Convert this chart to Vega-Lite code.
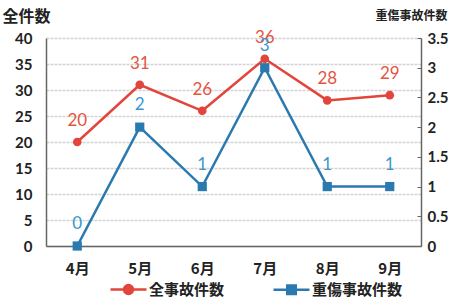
{
  "$schema": "https://vega.github.io/schema/vega-lite/v6.json",
  "width": 375,
  "height": 208,
  "autosize": {"type": "none"},
  "padding": {"left": 46, "top": 38, "right": 35, "bottom": 52},
  "background": "white",
  "config": {
    "view": {"stroke": null},
    "axis": {"labelColor": "#222", "titleColor": "#222"},
    "legend": {
      "orient": "none",
      "legendX": 75,
      "legendY": 244,
      "direction": "horizontal",
      "title": null,
      "padding": 0,
      "labelFont": "Noto Sans CJK JP",
      "labelFontSize": 15,
      "labelFontWeight": "bold",
      "labelColor": "#222",
      "symbolSize": 100,
      "symbolStrokeWidth": 2.5,
      "labelOffset": 13,
      "columnPadding": 43
    }
  },
  "data": {
    "values": [
      {"month": "4月", "all": 20, "serious": 0},
      {"month": "5月", "all": 31, "serious": 2},
      {"month": "6月", "all": 26, "serious": 1},
      {"month": "7月", "all": 36, "serious": 3},
      {"month": "8月", "all": 28, "serious": 1},
      {"month": "9月", "all": 29, "serious": 1}
    ]
  },
  "encoding": {
    "x": {
      "field": "month",
      "type": "ordinal",
      "sort": null,
      "scale": {"padding": 0.5},
      "axis": {
        "title": null,
        "labelAngle": 0,
        "labelFont": "Noto Sans CJK JP",
        "labelFontSize": 15,
        "labelFontWeight": "bold",
        "labelPadding": 15,
        "ticks": false,
        "domainColor": "#666",
        "domainWidth": 1.5,
        "grid": false
      }
    }
  },
  "layer": [
    {
      "encoding": {
        "y": {
          "field": "all",
          "type": "quantitative",
          "scale": {"domain": [0, 40], "nice": false},
          "axis": {
            "title": "全件数",
            "titleAngle": 0,
            "titleAlign": "left",
            "titleBaseline": "bottom",
            "titleX": -44,
            "titleY": -14,
            "titleFont": "Noto Sans CJK JP",
            "titleFontSize": 16,
            "titleFontWeight": "bold",
            "values": [0, 5, 10, 15, 20, 25, 30, 35, 40],
            "labelFont": "Lato",
            "labelFontSize": 15,
            "labelFontWeight": "bold",
            "labelPadding": 14,
            "ticks": false,
            "domainColor": "#666",
            "domainWidth": 1.5,
            "grid": true,
            "gridColor": "#d4d4d4",
            "gridWidth": 1.5,
            "gridDash": [3, 1]
          }
        }
      },
      "layer": [
        {
          "mark": {"type": "line", "strokeWidth": 2.5},
          "encoding": {"color": {"datum": "全事故件数", "scale": {"domain": ["全事故件数", "重傷事故件数"], "range": ["#e2453c", "#2a7ab0"]}}}
        },
        {
          "mark": {"type": "point", "filled": true, "opacity": 1, "shape": "circle", "size": 75},
          "encoding": {"color": {"datum": "全事故件数"}}
        },
        {
          "mark": {"type": "text", "dy": -21, "font": "Lato", "fontSize": 17, "color": "#e4553f"},
          "encoding": {"text": {"field": "all", "type": "quantitative"}}
        },
        {
          "transform": [{"filter": "false"}],
          "mark": {"type": "point", "filled": true, "opacity": 1},
          "encoding": {
            "color": {"datum": "全事故件数"},
            "shape": {
              "datum": "全事故件数",
              "scale": {
                "domain": ["全事故件数", "重傷事故件数"],
                "range": [
                  "M-3.6,0L3.6,0M-0.9,0A0.9,0.9 0 1,0 0.9,0A0.9,0.9 0 1,0 -0.9,0Z",
                  "M-3.6,0L3.6,0M-0.85,-0.85L0.85,-0.85L0.85,0.85L-0.85,0.85Z"
                ]
              },
              "legend": {
                "encode": {
                  "symbols": {
                    "update": {
                      "stroke": {"scale": "color", "field": "value"},
                      "strokeWidth": {"value": 2.5}
                    }
                  }
                }
              }
            }
          }
        }
      ]
    },
    {
      "encoding": {
        "y": {
          "field": "serious",
          "type": "quantitative",
          "scale": {"domain": [0, 3.5], "nice": false},
          "axis": {
            "orient": "right",
            "title": "重傷事故件数",
            "titleAngle": 0,
            "titleAlign": "left",
            "titleBaseline": "bottom",
            "titleX": -46,
            "titleY": -16,
            "titleFont": "Noto Sans CJK JP",
            "titleFontSize": 12,
            "titleFontWeight": "bold",
            "values": [0, 0.5, 1, 1.5, 2, 2.5, 3, 3.5],
            "format": "~g",
            "labelFont": "Lato",
            "labelFontSize": 15,
            "labelFontWeight": "bold",
            "labelPadding": 10,
            "tickSize": -4,
            "tickColor": "#666",
            "domainColor": "#666",
            "domainWidth": 1.5,
            "grid": false
          }
        }
      },
      "layer": [
        {
          "mark": {"type": "line", "strokeWidth": 2.5},
          "encoding": {"color": {"datum": "重傷事故件数"}}
        },
        {
          "mark": {"type": "point", "filled": true, "opacity": 1, "shape": "square", "size": 85},
          "encoding": {"color": {"datum": "重傷事故件数"}}
        },
        {
          "mark": {"type": "text", "dy": -22, "font": "Lato", "fontSize": 17, "color": "#3a97cc"},
          "encoding": {"text": {"field": "serious", "type": "quantitative"}}
        },
        {
          "transform": [{"filter": "false"}],
          "mark": {"type": "point", "filled": true, "opacity": 1},
          "encoding": {
            "color": {"datum": "重傷事故件数"},
            "shape": {"datum": "重傷事故件数"}
          }
        }
      ]
    }
  ],
  "resolve": {"scale": {"y": "independent"}}
}
